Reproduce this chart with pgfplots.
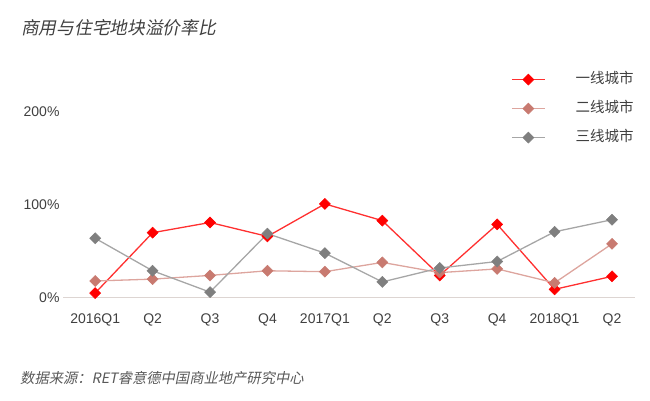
\documentclass[border=0pt]{standalone}
\usepackage{pgfplots}
\pgfplotsset{compat=1.18}
\usepackage{fontspec}
\setmainfont{Liberation Sans}
\newfontfamily\cjk{Noto Sans CJK SC}
\newfontfamily\cjkit[FakeSlant=0.2]{Noto Sans CJK SC}
\definecolor{cRed}{HTML}{FF0000}
\definecolor{cRedL}{HTML}{FF3030}
\definecolor{cPinkM}{HTML}{C87A70}
\definecolor{cPinkL}{HTML}{DDA59E}
\definecolor{cGrayM}{HTML}{7F7F7F}
\definecolor{cGrayL}{HTML}{A6A6A6}
\definecolor{cAxis}{HTML}{DDD5D2}
\definecolor{cText}{HTML}{404040}
\begin{document}
\begin{tikzpicture}
\useasboundingbox (0,0) rectangle (650pt,401pt);
\begin{axis}[
  at={(63pt,103.3pt)}, anchor=south west,
  scale only axis, width=572pt, height=185.7pt,
  xmin=-0.56, xmax=9.4, ymin=0, ymax=2,
  axis x line*=bottom, axis y line*=left,
  x axis line style={draw=cAxis, line width=1pt, -},
  y axis line style={draw=none},
  major tick length=0pt,
  xtick={0,...,9},
  xticklabels={2016Q1,Q2,Q3,Q4,2017Q1,Q2,Q3,Q4,2018Q1,Q2},
  ytick={0,1,2},
  yticklabels={0\%,100\%,200\%},
  tick label style={font=\fontsize{14}{16}\selectfont, text=cText},
  xticklabel style={yshift=-12pt},
  clip=false,
  legend style={draw=none, fill=none, at={(rel axis cs:0.778,1.224)}, anchor=north west,
    font=\cjk\fontsize{14.5}{16}\selectfont,
    nodes={inner sep=0pt, text height=11pt, text depth=3pt},
    row sep=15pt,
    /tikz/every odd column/.append style={column sep=30pt}},
  legend cell align=left,
]
\addplot[color=cRedL, draw=cRedL, line width=1.3pt, mark=square*, mark size=3.9pt, mark options={rotate=45, fill=cRed, draw=cRed, line width=0.5pt},
  legend image code/.code={\draw[mark repeat=2, mark phase=2, draw=cRedL, line width=1.3pt, mark=square*, mark size=3.9pt, mark options={rotate=45, fill=cRed, draw=cRed, line width=0.5pt}] plot coordinates {(0pt,0pt) (16.5pt,0pt) (33pt,0pt)};}] coordinates {
(0,0.05) (1,0.70) (2,0.81) (3,0.66) (4,1.01) (5,0.83) (6,0.24) (7,0.79) (8,0.09) (9,0.23)};
\addlegendentry{\textcolor{cText}{一线城市}}
\addplot[color=cPinkL, draw=cPinkL, line width=1.3pt, mark=square*, mark size=3.9pt, mark options={rotate=45, fill=cPinkM, draw=cPinkM, line width=0.5pt},
  legend image code/.code={\draw[mark repeat=2, mark phase=2, draw=cPinkL, line width=1.3pt, mark=square*, mark size=3.9pt, mark options={rotate=45, fill=cPinkM, draw=cPinkM, line width=0.5pt}] plot coordinates {(0pt,0pt) (16.5pt,0pt) (33pt,0pt)};}] coordinates {
(0,0.18) (1,0.20) (2,0.24) (3,0.29) (4,0.28) (5,0.38) (6,0.27) (7,0.31) (8,0.16) (9,0.58)};
\addlegendentry{\textcolor{cText}{二线城市}}
\addplot[color=cGrayL, draw=cGrayL, line width=1.3pt, mark=square*, mark size=3.9pt, mark options={rotate=45, fill=cGrayM, draw=cGrayM, line width=0.5pt},
  legend image code/.code={\draw[mark repeat=2, mark phase=2, draw=cGrayL, line width=1.3pt, mark=square*, mark size=3.9pt, mark options={rotate=45, fill=cGrayM, draw=cGrayM, line width=0.5pt}] plot coordinates {(0pt,0pt) (16.5pt,0pt) (33pt,0pt)};}] coordinates {
(0,0.64) (1,0.29) (2,0.06) (3,0.69) (4,0.48) (5,0.17) (6,0.32) (7,0.39) (8,0.71) (9,0.84)};
\addlegendentry{\textcolor{cText}{三线城市}}
\end{axis}
\node[anchor=west, text=cText, inner sep=0pt] at (21pt,373pt) {\cjkit\fontsize{17.7}{20}\selectfont 商用与住宅地块溢价率比};
\node[anchor=west, text=black!65, inner sep=0pt] at (20pt,23pt) {\cjkit\fontsize{14.3}{17}\selectfont 数据来源：RET睿意德中国商业地产研究中心};
\end{tikzpicture}
\end{document}
